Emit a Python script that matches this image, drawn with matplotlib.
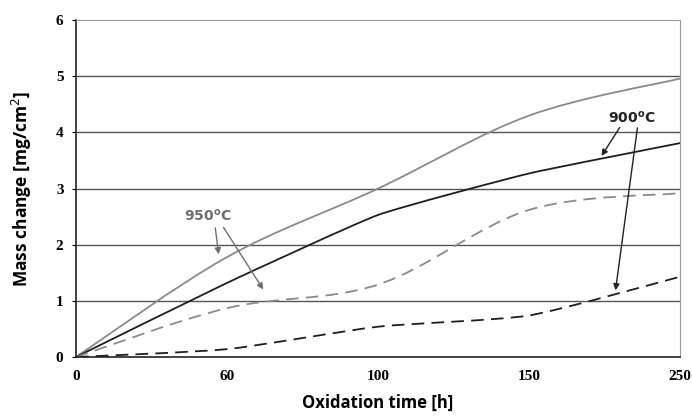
import numpy as np
import matplotlib.pyplot as plt
from matplotlib.path import Path
from matplotlib.patches import PathPatch

# data (category axis, evenly spaced)
time_labels = ['0', '60', '100', '150', '250']
gray_solid_950 = [0.0, 1.78, 3.0, 4.30, 4.96]
black_solid_900 = [0.0, 1.32, 2.53, 3.27, 3.81]
gray_dash_950 = [0.0, 0.87, 1.29, 2.62, 2.92]
black_dash_900 = [0.0, 0.14, 0.54, 0.74, 1.43]


def smooth_path(xs, ys, k=1/6.0):
  # catmull-rom style bezier through the points, like excel smoothing
  xs = np.asarray(xs, float)
  ys = np.asarray(ys, float)
  pts = np.column_stack([xs, ys])
  n = len(pts)
  verts = [pts[0]]
  codes = [Path.MOVETO]
  for i in range(n - 1):
    p0 = pts[i - 1] if i > 0 else pts[i]
    p1 = pts[i]
    p2 = pts[i + 1]
    p3 = pts[i + 2] if i + 2 < n else pts[i + 1]
    c1 = p1 + (p2 - p0) * k
    c2 = p2 - (p3 - p1) * k
    verts += [c1, c2, p2]
    codes += [Path.CURVE4] * 3
  return Path(verts, codes)


fig = plt.figure(figsize=(6.92, 4.2), dpi=100)
ax = fig.add_axes([0.1098, 0.15, 0.873, 0.802])

x = np.arange(len(time_labels))
series = [
  (gray_solid_950, '#8a8a8a', '-', 1/6.0),
  (black_solid_900, '#1e1e1e', '-', 1/14.0),
  (gray_dash_950, '#8a8a8a', (0, (7, 4)), 1/6.0),
  (black_dash_900, '#1e1e1e', (0, (7, 4)), 1/10.0),
]
for ys, col, ls, k in series:
  patch = PathPatch(smooth_path(x, ys, k), fill=False, edgecolor=col,
                    linewidth=1.3, linestyle=ls, zorder=3)
  ax.add_patch(patch)

ax.set_xlim(0, 4)
ax.set_ylim(0, 6)
ax.set_xticks(x)
ax.set_xticklabels(time_labels)
ax.set_yticks(range(7))

for yv in range(1, 6):
  ax.axhline(yv, color='#555555', linewidth=1.0, zorder=1)
ax.spines['top'].set_color('#999999')
ax.spines['right'].set_color('#999999')
ax.spines['left'].set_color('#222222')
ax.spines['bottom'].set_color('#222222')
ax.spines['left'].set_linewidth(1.2)
ax.spines['bottom'].set_linewidth(1.2)

ax.tick_params(axis='x', length=0, pad=9)
ax.tick_params(axis='y', length=3, pad=6)
for lab in ax.get_xticklabels() + ax.get_yticklabels():
  lab.set_fontfamily('Liberation Serif')
  lab.set_fontweight('bold')
  lab.set_fontsize(11)

ax.set_xlabel('Oxidation time [h]', fontfamily='Open Sans', fontweight='bold',
              fontsize=12, labelpad=8)
ax.set_ylabel('Mass change [mg/cm$^2$]', fontfamily='Open Sans',
              fontweight='bold', fontsize=12.5, labelpad=16)

# annotations
ax.text(0.874, 2.51, '950$^{\\mathregular{o}}$C', color='#6e6e6e', fontsize=10,
        fontweight='bold', ha='center', va='center', family='DejaVu Sans')
arrow_gray = dict(arrowstyle='-|>', color='#6e6e6e', lw=1.0, mutation_scale=9)
ax.annotate('', xy=(0.947, 1.78), xytext=(0.92, 2.35), arrowprops=arrow_gray)
ax.annotate('', xy=(1.25, 1.16), xytext=(0.967, 2.35), arrowprops=arrow_gray)

ax.text(3.68, 4.27, '900$^{\\mathregular{o}}$C', color='#222222', fontsize=10,
        fontweight='bold', ha='center', va='center', family='DejaVu Sans')
arrow_black = dict(arrowstyle='-|>', color='#222222', lw=1.0, mutation_scale=9)
ax.annotate('', xy=(3.47, 3.54), xytext=(3.61, 4.13), arrowprops=arrow_black)
ax.annotate('', xy=(3.57, 1.14), xytext=(3.72, 4.13), arrowprops=arrow_black)

fig.savefig('out.png', dpi=100)
